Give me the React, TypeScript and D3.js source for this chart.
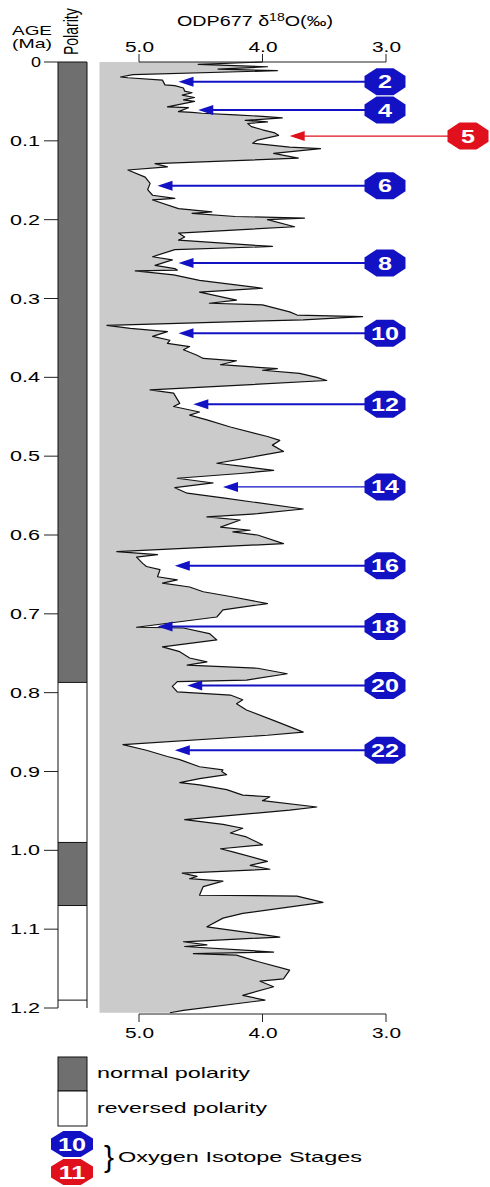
import React from "react";
import { scaleLinear, area, line } from "d3";

// ODP677 oxygen isotope record
const ages = [
  0.0, 0.003, 0.006, 0.009, 0.011, 0.016, 0.019, 0.02, 0.023, 0.029, 0.03, 0.033, 0.037, 0.039, 0.042, 0.045,
  0.048, 0.05, 0.057, 0.058, 0.063, 0.064, 0.065, 0.067, 0.069, 0.071, 0.074, 0.076, 0.078, 0.082, 0.086, 0.09,
  0.093, 0.099, 0.103, 0.108, 0.11, 0.116, 0.122, 0.129, 0.133, 0.137, 0.146, 0.154, 0.162, 0.169, 0.173, 0.175,
  0.186, 0.19, 0.192, 0.196, 0.198, 0.2, 0.209, 0.217, 0.222, 0.226, 0.234, 0.238, 0.247, 0.251, 0.258, 0.262,
  0.264, 0.265, 0.27, 0.277, 0.287, 0.292, 0.302, 0.306, 0.308, 0.317, 0.321, 0.323, 0.327, 0.334, 0.338, 0.342,
  0.348, 0.353, 0.357, 0.361, 0.365, 0.372, 0.376, 0.379, 0.384, 0.389, 0.391, 0.395, 0.4, 0.404, 0.416, 0.42,
  0.433, 0.437, 0.444, 0.448, 0.454, 0.463, 0.475, 0.48, 0.486, 0.494, 0.509, 0.513, 0.518, 0.522, 0.528, 0.534,
  0.54, 0.547, 0.553, 0.567, 0.573, 0.577, 0.581, 0.59, 0.594, 0.596, 0.6, 0.611, 0.621, 0.625, 0.628, 0.636,
  0.64, 0.644, 0.653, 0.657, 0.661, 0.666, 0.672, 0.678, 0.687, 0.695, 0.704, 0.717, 0.718, 0.725, 0.733, 0.742,
  0.748, 0.756, 0.761, 0.765, 0.769, 0.776, 0.784, 0.786, 0.792, 0.799, 0.803, 0.809, 0.814, 0.822, 0.837, 0.85,
  0.854, 0.866, 0.873, 0.881, 0.885, 0.894, 0.898, 0.9, 0.904, 0.909, 0.914, 0.917, 0.923, 0.93, 0.932, 0.937,
  0.945, 0.949, 0.961, 0.967, 0.972, 0.978, 0.983, 0.993, 0.998, 1.002, 1.014, 1.019, 1.024, 1.029, 1.033, 1.036,
  1.039, 1.046, 1.057, 1.058, 1.066, 1.08, 1.086, 1.097, 1.11, 1.116, 1.12, 1.122, 1.129, 1.131, 1.133, 1.141,
  1.152, 1.163, 1.166, 1.173, 1.184, 1.19, 1.203, 1.206,
];
const d18O = [
  4.0, 4.52, 3.96, 4.36, 3.88, 5.05, 5.15, 5.09, 4.81, 4.79, 4.71, 4.64, 4.63, 4.57, 4.65, 4.55,
  4.64, 4.55, 4.77, 4.6, 4.68, 4.57, 4.49, 4.22, 4.0, 3.84, 4.14, 3.96, 4.12, 4.09, 4.0, 3.9,
  3.87, 4.04, 4.08, 3.78, 3.53, 3.91, 3.71, 4.87, 4.77, 5.09, 4.95, 4.91, 4.93, 4.89, 4.71, 4.89,
  4.68, 4.41, 4.57, 4.22, 3.66, 3.96, 3.74, 4.68, 4.63, 4.68, 3.92, 4.71, 4.89, 4.73, 4.87, 4.71,
  4.69, 5.03, 4.72, 4.51, 4.0, 4.51, 4.21, 4.43, 4.0, 3.78, 3.72, 3.19, 3.67, 5.26, 5.07, 4.77,
  4.89, 4.75, 4.77, 4.59, 4.64, 4.53, 4.48, 4.21, 4.34, 3.88, 4.0, 3.7, 3.56, 3.48, 4.91, 4.72,
  4.67, 4.72, 4.51, 4.59, 4.45, 4.26, 3.96, 3.86, 3.92, 3.83, 4.37, 4.16, 3.91, 4.18, 4.69, 4.4,
  4.71, 4.61, 4.32, 3.67, 4.04, 4.45, 4.18, 4.34, 4.1, 4.24, 4.04, 3.83, 5.18, 4.85, 5.02, 4.97,
  4.94, 4.83, 4.85, 4.69, 4.81, 4.59, 4.48, 4.26, 3.96, 4.32, 4.37, 5.02, 4.64, 4.43, 4.37, 4.81,
  4.67, 4.59, 4.45, 4.61, 4.04, 3.8, 4.13, 4.69, 4.73, 4.69, 4.26, 4.16, 4.21, 4.13, 3.88, 3.67,
  3.96, 5.13, 4.94, 4.77, 4.67, 4.51, 4.32, 4.33, 4.29, 4.51, 4.67, 4.51, 4.29, 4.16, 3.94, 4.0,
  3.56, 3.78, 4.63, 4.32, 4.16, 4.26, 4.13, 4.0, 4.34, 4.24, 3.96, 4.1, 3.94, 4.65, 4.53, 4.59,
  4.32, 4.48, 4.51, 3.72, 3.51, 4.16, 4.32, 4.45, 3.86, 4.64, 4.45, 4.63, 3.91, 4.56, 4.21, 4.04,
  3.78, 3.83, 4.02, 3.91, 4.16, 3.98, 4.64, 4.75,
];

// marine isotope stages marked with arrows
const stageNums = [2, 4, 5, 6, 8, 10, 12, 14, 16, 18, 20, 22];
const stageAges = [0.025, 0.061, 0.094, 0.157, 0.255, 0.344, 0.434, 0.539, 0.639, 0.716, 0.791, 0.873];
const stageTips = [4.68, 4.52, 3.78, 4.85, 4.68, 4.68, 4.56, 4.32, 4.71, 4.85, 4.61, 4.71];

// polarity chrons (Ma)
const polarityTops = [0, 0.787, 0.99, 1.07, 1.19];
const polarityBottoms = [0.787, 0.99, 1.07, 1.19, 1.2];
const polarityNormal = [true, false, true, false, false];

const ageTicks = [0, 0.1, 0.2, 0.3, 0.4, 0.5, 0.6, 0.7, 0.8, 0.9, 1.0, 1.1, 1.2];
const valueTicks = [5.0, 4.0, 3.0];

const FONT = "'Liberation Sans', Arial, Helvetica, sans-serif";
const BLUE = "#1212c4";
const RED = "#e0101c";

const octagon = (cx: number, cy: number, w: number, h: number) => {
  const cw = w * 0.293;
  const ch = h * 0.293;
  return [
    [cx - w / 2 + cw, cy - h / 2],
    [cx + w / 2 - cw, cy - h / 2],
    [cx + w / 2, cy - h / 2 + ch],
    [cx + w / 2, cy + h / 2 - ch],
    [cx + w / 2 - cw, cy + h / 2],
    [cx - w / 2 + cw, cy + h / 2],
    [cx - w / 2, cy + h / 2 - ch],
    [cx - w / 2, cy - h / 2 + ch],
  ]
    .map(p => p.join(","))
    .join(" ");
};

const Badge = ({ cx, cy, label, color, w = 41, h = 27 }) => (
  <g>
    <polygon points={octagon(cx, cy, w, h)} fill={color} />
    <text
      transform={`translate(${cx},${cy + 6.5}) scale(1.4,1)`}
      textAnchor="middle"
      fill="#fff"
      fontFamily={FONT}
      fontWeight="bold"
      fontSize={18}
    >
      {label}
    </text>
  </g>
);

const App = () => {
  const width = 490;
  const height = 1187;

  const y = scaleLinear().domain([0, 1.2]).range([62, 1008]);
  const x = scaleLinear().domain([5.0, 3.0]).range([139, 386]);
  const baseline = 5.32;

  const data = ages.map((a, i) => ({ age: a, v: d18O[i] }));

  const fillPath = area<any>()
    .y(d => y(d.age))
    .x0(x(baseline))
    .x1(d => x(d.v))(data);
  const curvePath = line<any>()
    .x(d => x(d.v))
    .y(d => y(d.age))(data);

  const barL = 58;
  const barR = 87;
  const blueX = 385;
  const redX = 468;

  return (
    <svg
      width={width}
      height={height}
      style={{ position: "absolute", left: 0, top: 0, background: "#fff" }}
      fontFamily={FONT}
    >
      {/* header */}
      <text x={12} y={34.5} fontSize={13} textLength={40} lengthAdjust="spacingAndGlyphs">
        AGE
      </text>
      <text x={12} y={48} fontSize={13} textLength={40} lengthAdjust="spacingAndGlyphs">
        (Ma)
      </text>
      <text transform="translate(77.5,55) scale(1.45,1) rotate(-90)" fontSize={14}>
        Polarity
      </text>
      <text x={177} y={26} fontSize={14} textLength={156} lengthAdjust="spacingAndGlyphs">
        ODP677 δ<tspan fontSize={10} dy={-5}>18</tspan>
        <tspan dy={5}>O(‰)</tspan>
      </text>

      {/* isotope curve */}
      <path d={fillPath} fill="#cbcbcb" />
      <path d={curvePath} fill="none" stroke="#111" strokeWidth={1.2} strokeLinejoin="round" />

      {/* top and bottom value axes */}
      {[
        { ay: 62, dir: -1, ly: 51.5 },
        { ay: 1014, dir: 1, ly: 1038 },
      ].map((ax, k) => (
        <g key={k}>
          <line x1={x(5.0)} x2={x(3.0)} y1={ax.ay} y2={ax.ay} stroke="#222" strokeWidth={1} />
          {valueTicks.map(t => (
            <g key={t}>
              <line x1={x(t)} x2={x(t)} y1={ax.ay} y2={ax.ay + ax.dir * 8} stroke="#222" />
              <text
                x={x(t) - 14}
                y={ax.ly}
                fontSize={14}
                textLength={29}
                lengthAdjust="spacingAndGlyphs"
              >
                {t.toFixed(1)}
              </text>
            </g>
          ))}
        </g>
      ))}

      {/* age axis */}
      {ageTicks.map(t => (
        <g key={t}>
          <line x1={44} x2={barL} y1={y(t)} y2={y(t)} stroke="#222" />
          <text
            x={t === 0 ? 31 : 10}
            y={y(t) + 5}
            fontSize={14}
            textLength={t === 0 ? 10 : 30}
            lengthAdjust="spacingAndGlyphs"
          >
            {t === 0 ? "0" : t.toFixed(1)}
          </text>
        </g>
      ))}

      {/* polarity column */}
      {polarityTops.map((t, i) => (
        <rect
          key={i}
          x={barL}
          width={barR - barL}
          y={y(t)}
          height={y(polarityBottoms[i]) - y(t)}
          fill={polarityNormal[i] ? "#6f6f6f" : "#fff"}
        />
      ))}
      <line x1={barL} x2={barL} y1={y(0)} y2={y(1.2)} stroke="#111" />
      <line x1={barR} x2={barR} y1={y(0)} y2={y(1.2)} stroke="#111" />
      {polarityTops.map((t, i) => (
        <line key={i} x1={barL} x2={barR} y1={y(t)} y2={y(t)} stroke="#111" />
      ))}

      {/* stage arrows */}
      {stageNums.map((n, i) => {
        const odd = n % 2 === 1;
        const color = odd ? RED : BLUE;
        const cx = odd ? redX : blueX;
        const cy = y(stageAges[i]);
        const tip = x(stageTips[i]);
        return (
          <g key={n}>
            <line
              x1={tip + 12}
              x2={cx - 20}
              y1={cy}
              y2={cy}
              stroke={color}
              strokeWidth={n === 14 || odd ? 1.3 : 2}
            />
            <polygon
              points={`${tip},${cy} ${tip + 15},${cy - 5} ${tip + 15},${cy + 5}`}
              fill={color}
            />
            <Badge cx={cx} cy={cy} label={n} color={color} />
          </g>
        );
      })}

      {/* legend */}
      <rect x={barL} y={1057} width={barR - barL} height={34} fill="#6f6f6f" stroke="#111" />
      <rect x={barL} y={1091} width={barR - barL} height={35} fill="#fff" stroke="#111" />
      <text x={97} y={1078} fontSize={15} textLength={153} lengthAdjust="spacingAndGlyphs">
        normal polarity
      </text>
      <text x={97} y={1113} fontSize={15} textLength={170} lengthAdjust="spacingAndGlyphs">
        reversed polarity
      </text>
      <Badge cx={72} cy={1144} label={10} color={BLUE} w={42} h={26} />
      <Badge cx={72} cy={1172} label={11} color={RED} w={42} h={26} />
      <text x={104} y={1167} fontSize={30} textLength={10} lengthAdjust="spacingAndGlyphs">
        {"}"}
      </text>
      <text x={118} y={1162} fontSize={15} textLength={244} lengthAdjust="spacingAndGlyphs">
        Oxygen Isotope Stages
      </text>
    </svg>
  );
};

export default App;
